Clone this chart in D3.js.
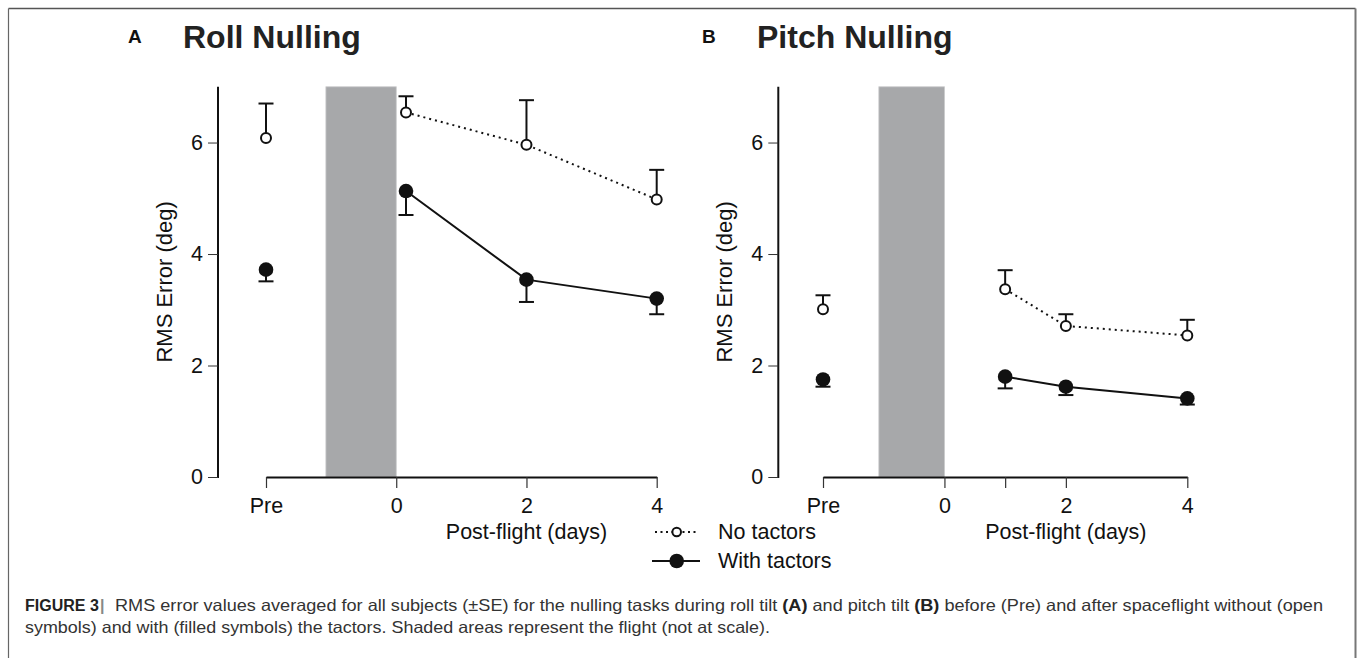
<!DOCTYPE html>
<html>
<head>
<meta charset="utf-8">
<script src="https://cdn.jsdelivr.net/npm/d3@7"></script>
<style>
  html, body { margin: 0; padding: 0; background: #fff; }
  svg { display: block; font-family: "Liberation Sans", Arial, Helvetica, sans-serif; }
</style>
</head>
<body>
<svg id="chart" width="1358" height="658"></svg>
<script>
// ---- Data ----
// x value -2 is the "Pre" (pre-flight) session
const rollDays = [-2, 0.15, 2, 4];
const rollNoTactors = [6.08, 6.54, 5.96, 4.98];
const rollNoTactorsSE = [0.62, 0.29, 0.80, 0.53];
const rollWithTactors = [3.72, 5.13, 3.54, 3.20];
const rollWithTactorsSE = [0.21, 0.43, 0.40, 0.28];

const pitchDays = [-2, 1, 2, 4];
const pitchNoTactors = [3.01, 3.37, 2.71, 2.54];
const pitchNoTactorsSE = [0.25, 0.34, 0.21, 0.28];
const pitchWithTactors = [1.75, 1.80, 1.62, 1.41];
const pitchWithTactorsSE = [0.13, 0.21, 0.15, 0.11];

const rollXTicks = [-2, 0, 2, 4];
const rollXTickLabels = ["Pre", "0", "2", "4"];
const pitchXTicks = [-2, 0, 1, 2, 4];
const pitchXTickLabels = ["Pre", "0", "", "2", "4"];
const yTicks = [0, 2, 4, 6];
const flightSpan = [-1.08, 0];
const xDomain = [-2, 4];
const yDomain = [0, 7];

const legendLabels = ["No tactors", "With tactors"];
const panelLetters = ["A", "B"];
const panelTitles = ["Roll Nulling", "Pitch Nulling"];
const yAxisTitle = "RMS Error (deg)";
const xAxisTitle = "Post-flight (days)";

// ---- Drawing ----
const svg = d3.select("#chart");
const FS = 21.5;

// frame
svg.append("line").attr("x1", 8.5).attr("x2", 1355.5).attr("y1", 8.5).attr("y2", 8.5)
  .attr("stroke", "#555").attr("stroke-width", 1.5);
svg.append("line").attr("x1", 8.5).attr("x2", 8.5).attr("y1", 8.5).attr("y2", 660)
  .attr("stroke", "#666").attr("stroke-width", 1.2);
svg.append("line").attr("x1", 1355.5).attr("x2", 1355.5).attr("y1", 8.5).attr("y2", 660)
  .attr("stroke", "#777").attr("stroke-width", 2);

const panels = [
  { days: rollDays, no: rollNoTactors, noSE: rollNoTactorsSE, wi: rollWithTactors, wiSE: rollWithTactorsSE,
    xTicks: rollXTicks, xLabels: rollXTickLabels, axisX: 218, x0: 266, x1: 656.7,
    letterX: 128, titleX: 183, yLabelX: 172 },
  { days: pitchDays, no: pitchNoTactors, noSE: pitchNoTactorsSE, wi: pitchWithTactors, wiSE: pitchWithTactorsSE,
    xTicks: pitchXTicks, xLabels: pitchXTickLabels, axisX: 778.3, x0: 823, x1: 1187.3,
    letterX: 702, titleX: 757, yLabelX: 732 }
];

const yBottom = 477, yTop = 86.8;

panels.forEach((p, i) => {
  const g = svg.append("g");
  const x = d3.scaleLinear().domain(xDomain).range([p.x0, p.x1]);
  const y = d3.scaleLinear().domain(yDomain).range([yBottom, yTop]);

  // letter and title
  g.append("text").attr("x", p.letterX).attr("y", 43).attr("font-size", 19).attr("font-weight", "bold")
    .attr("fill", "#111").text(panelLetters[i]);
  g.append("text").attr("x", p.titleX).attr("y", 48).attr("font-size", 32).attr("font-weight", "bold")
    .attr("fill", "#222").text(panelTitles[i]);

  // flight shading
  g.append("rect")
    .attr("x", x(flightSpan[0])).attr("width", x(flightSpan[1]) - x(flightSpan[0]))
    .attr("y", y(yDomain[1])).attr("height", y(0) - y(yDomain[1]))
    .attr("fill", "#a7a8aa").attr("stroke", "#c8c9ca").attr("stroke-width", 0.8);

  // y axis
  const yAxis = g.append("g").attr("transform", `translate(${p.axisX},0)`)
    .call(d3.axisLeft(y).tickValues(yTicks).tickSize(10).tickSizeOuter(0).tickPadding(5).tickFormat(d3.format("d")));
  yAxis.select(".domain").attr("stroke", "#111").attr("stroke-width", 2)
    .attr("d", `M0,${y(yDomain[1])}V${y(0) + 1}`);
  yAxis.selectAll(".tick line").attr("stroke", "#333").attr("stroke-width", 1);
  yAxis.selectAll(".tick text").attr("font-size", FS).attr("fill", "#111").attr("font-family", null);

  // x axis
  const xAxis = g.append("g").attr("transform", `translate(0,${yBottom})`)
    .call(d3.axisBottom(x).tickValues(p.xTicks).tickSize(11).tickSizeOuter(0).tickPadding(10)
      .tickFormat((d, k) => p.xLabels[k]));
  xAxis.select(".domain").attr("stroke", "#111").attr("stroke-width", 2);
  xAxis.selectAll(".tick line").attr("stroke", "#333").attr("stroke-width", 1.2);
  xAxis.selectAll(".tick text").attr("font-size", FS).attr("fill", "#111").attr("font-family", null);

  // axis titles
  g.append("text").attr("transform", `translate(${p.yLabelX},${(yBottom + yTop) / 2}) rotate(-90)`)
    .attr("text-anchor", "middle").attr("font-size", 22).attr("fill", "#111").text(yAxisTitle);
  g.append("text").attr("x", x(2)).attr("y", 539).attr("text-anchor", "middle")
    .attr("font-size", FS).attr("fill", "#111").text(xAxisTitle);

  const noData = p.days.map((d, k) => ({ x: d, y: p.no[k], se: p.noSE[k] }));
  const wiData = p.days.map((d, k) => ({ x: d, y: p.wi[k], se: p.wiSE[k] }));

  // error bars: open symbols upward, filled symbols downward
  const capW = 7.5;
  const drawErr = (data, dir) => {
    const eg = g.append("g").attr("stroke", "#111").attr("stroke-width", 2);
    eg.selectAll("line.v").data(data).join("line").attr("class", "v")
      .attr("x1", d => x(d.x)).attr("x2", d => x(d.x))
      .attr("y1", d => y(d.y)).attr("y2", d => y(d.y + dir * d.se));
    eg.selectAll("line.c").data(data).join("line").attr("class", "c")
      .attr("x1", d => x(d.x) - capW).attr("x2", d => x(d.x) + capW)
      .attr("y1", d => y(d.y + dir * d.se)).attr("y2", d => y(d.y + dir * d.se));
  };
  drawErr(noData, 1);
  drawErr(wiData, -1);

  // lines (post-flight only)
  const line = d3.line().x(d => x(d.x)).y(d => y(d.y));
  g.append("path").datum(noData.slice(1)).attr("d", line).attr("fill", "none")
    .attr("stroke", "#111").attr("stroke-width", 2).attr("stroke-dasharray", "2,4");
  g.append("path").datum(wiData.slice(1)).attr("d", line).attr("fill", "none")
    .attr("stroke", "#111").attr("stroke-width", 2);

  // markers
  g.selectAll("circle.open").data(noData).join("circle").attr("class", "open")
    .attr("cx", d => x(d.x)).attr("cy", d => y(d.y)).attr("r", 5)
    .attr("fill", "#fff").attr("stroke", "#111").attr("stroke-width", 2);
  g.selectAll("circle.filled").data(wiData).join("circle").attr("class", "filled")
    .attr("cx", d => x(d.x)).attr("cy", d => y(d.y)).attr("r", 7.3)
    .attr("fill", "#111");
});

// legend
const lg = svg.append("g");
lg.append("line").attr("x1", 655).attr("x2", 698).attr("y1", 532).attr("y2", 532)
  .attr("stroke", "#111").attr("stroke-width", 2).attr("stroke-dasharray", "2,3.5");
lg.append("circle").attr("cx", 676.7).attr("cy", 532).attr("r", 4.3)
  .attr("fill", "#fff").attr("stroke", "#111").attr("stroke-width", 2);
lg.append("text").attr("x", 718).attr("y", 539).attr("font-size", FS).attr("fill", "#111").text(legendLabels[0]);
lg.append("line").attr("x1", 652).attr("x2", 700).attr("y1", 561).attr("y2", 561)
  .attr("stroke", "#111").attr("stroke-width", 2);
lg.append("circle").attr("cx", 676.7).attr("cy", 561).attr("r", 7.3).attr("fill", "#111");
lg.append("text").attr("x", 718).attr("y", 568).attr("font-size", FS).attr("fill", "#111").text(legendLabels[1]);

// caption
const cap = svg.append("g").attr("font-size", 16.5).attr("fill", "#333");
cap.append("text").attr("x", 25).attr("y", 611).attr("font-size", 16).attr("font-weight", "bold")
  .attr("fill", "#222").text("FIGURE 3");
cap.append("text").attr("x", 100).attr("y", 611).attr("font-size", 16).attr("font-weight", "bold")
  .attr("fill", "#888").text("|");
const l1 = cap.append("text").attr("x", 115).attr("y", 611)
  .attr("textLength", 1208).attr("lengthAdjust", "spacingAndGlyphs");
l1.append("tspan").text("RMS error values averaged for all subjects (\u00B1SE) for the nulling tasks during roll tilt ");
l1.append("tspan").attr("font-weight", "bold").attr("fill", "#222").text("(A)");
l1.append("tspan").text(" and pitch tilt ");
l1.append("tspan").attr("font-weight", "bold").attr("fill", "#222").text("(B)");
l1.append("tspan").text(" before (Pre) and after spaceflight without (open");
cap.append("text").attr("x", 25).attr("y", 633)
  .attr("textLength", 745).attr("lengthAdjust", "spacingAndGlyphs")
  .text("symbols) and with (filled symbols) the tactors. Shaded areas represent the flight (not at scale).");
</script>
</body>
</html>
